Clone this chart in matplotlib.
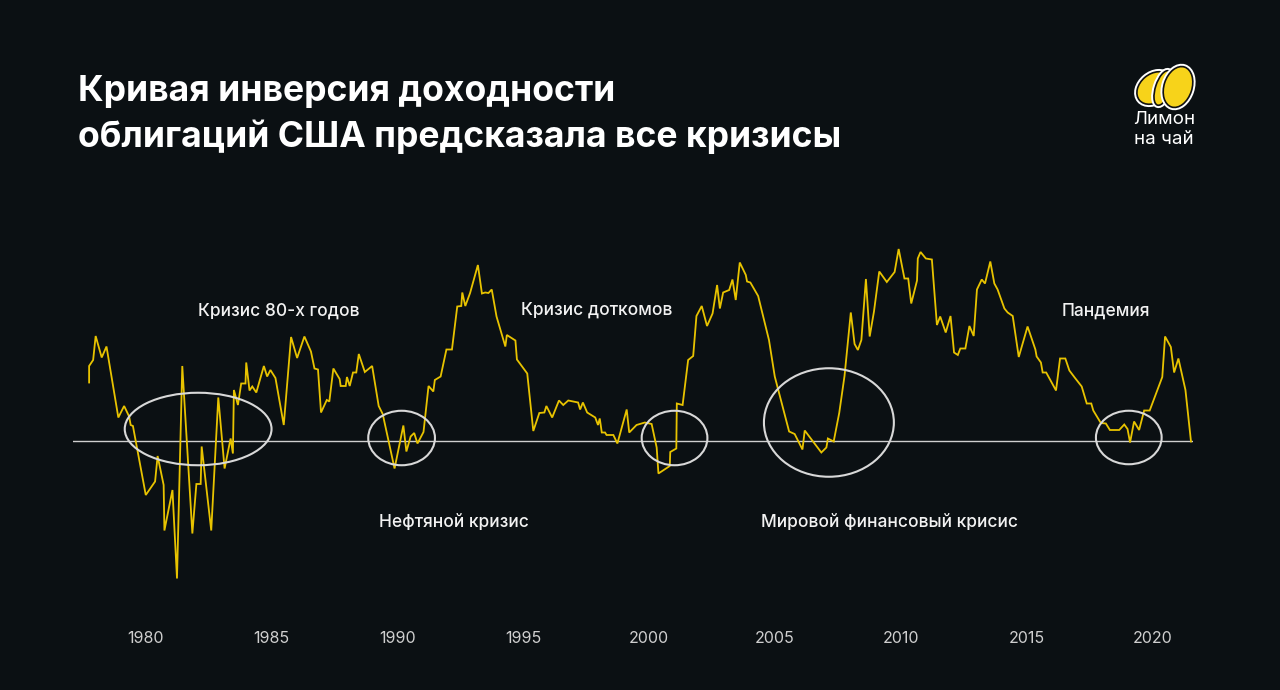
import matplotlib
matplotlib.use("Agg")
import matplotlib.pyplot as plt
from matplotlib.patches import Ellipse
import matplotlib.patheffects as pe

# ---------------- data ----------------
years = [
    1977.77, 1977.77, 1977.93, 1978.03, 1978.27, 1978.46, 1978.93, 1979.16, 1979.36, 1979.42,
    1979.51, 1980.02, 1980.39, 1980.49, 1980.73, 1980.76, 1981.08, 1981.26, 1981.47, 1981.87,
    1982.03, 1982.20, 1982.24, 1982.62, 1982.90, 1983.15, 1983.39, 1983.48, 1983.52, 1983.68,
    1983.81, 1983.98, 1984.01, 1984.14, 1984.25, 1984.41, 1984.71, 1984.84, 1984.97, 1985.17,
    1985.50, 1985.79, 1986.03, 1986.32, 1986.58, 1986.72, 1986.86, 1986.98, 1987.21, 1987.31,
    1987.47, 1987.72, 1987.76, 1987.96, 1988.01, 1988.12, 1988.25, 1988.38, 1988.48, 1988.72,
    1989.01, 1989.27, 1989.43, 1989.90, 1990.25, 1990.37, 1990.54, 1990.68, 1990.81, 1991.05,
    1991.25, 1991.44, 1991.50, 1991.73, 1991.96, 1992.18, 1992.39, 1992.55, 1992.59, 1992.71,
    1992.90, 1993.21, 1993.37, 1993.50, 1993.63, 1993.76, 1993.95, 1994.30, 1994.36, 1994.70,
    1994.76, 1995.17, 1995.41, 1995.65, 1995.85, 1995.93, 1996.16, 1996.43, 1996.60, 1996.80,
    1997.19, 1997.27, 1997.38, 1997.55, 1997.87, 1997.98, 1998.05, 1998.13, 1998.26, 1998.32,
    1998.59, 1998.75, 1999.12, 1999.22, 1999.51, 1999.84, 2000.11, 2000.31, 2000.38, 2000.83,
    2000.85, 2001.09, 2001.11, 2001.34, 2001.56, 2001.76, 2001.89, 2002.10, 2002.31, 2002.53,
    2002.71, 2002.82, 2002.95, 2003.19, 2003.32, 2003.45, 2003.61, 2003.85, 2003.90, 2004.03,
    2004.34, 2004.77, 2005.00, 2005.57, 2005.79, 2006.10, 2006.19, 2006.85, 2007.05, 2007.11,
    2007.34, 2007.56, 2007.77, 2008.02, 2008.17, 2008.30, 2008.44, 2008.62, 2008.77, 2008.94,
    2009.15, 2009.45, 2009.76, 2009.92, 2010.15, 2010.30, 2010.42, 2010.65, 2010.68, 2010.79,
    2011.00, 2011.24, 2011.44, 2011.57, 2011.79, 2011.98, 2012.12, 2012.27, 2012.37, 2012.57,
    2012.73, 2012.90, 2013.03, 2013.22, 2013.35, 2013.56, 2013.72, 2013.85, 2014.12, 2014.25,
    2014.45, 2014.69, 2015.04, 2015.24, 2015.35, 2015.40, 2015.57, 2015.64, 2015.78, 2016.17,
    2016.33, 2016.54, 2016.70, 2016.91, 2017.19, 2017.39, 2017.57, 2017.65, 2017.95, 2018.15,
    2018.31, 2018.68, 2018.88, 2019.01, 2019.11, 2019.27, 2019.47, 2019.67, 2019.89, 2020.39,
    2020.50, 2020.73, 2020.86, 2021.03, 2021.31, 2021.53,
]
spread = [
    1.17, 1.50, 1.62, 2.10, 1.67, 1.89, 0.47, 0.70, 0.49, 0.32,
    0.30, -1.08, -0.81, -0.30, -0.88, -1.79, -0.98, -2.75, 1.50, -1.85,
    -0.86, -0.86, -0.11, -1.79, 0.87, -0.55, 0.05, -0.25, 1.02, 0.72,
    1.15, 1.15, 1.57, 1.01, 1.09, 0.97, 1.50, 1.29, 1.42, 1.26,
    0.32, 2.08, 1.66, 2.09, 1.79, 1.45, 1.43, 0.57, 0.82, 0.79,
    1.45, 1.24, 1.10, 1.10, 1.28, 1.10, 1.37, 1.37, 1.74, 1.38,
    1.50, 0.70, 0.54, -0.55, 0.31, -0.21, 0.09, 0.16, -0.05, 0.18,
    1.10, 0.99, 1.22, 1.29, 1.83, 1.83, 2.69, 2.70, 2.97, 2.70,
    2.96, 3.52, 2.95, 2.97, 2.96, 3.03, 2.49, 1.89, 2.12, 2.01,
    1.63, 1.35, 0.20, 0.56, 0.57, 0.70, 0.47, 0.81, 0.72, 0.81,
    0.77, 0.63, 0.77, 0.57, 0.47, 0.32, 0.45, 0.17, 0.17, 0.12,
    0.12, -0.05, 0.63, 0.17, 0.32, 0.37, 0.34, -0.13, -0.65, -0.50,
    -0.22, -0.15, 0.75, 0.72, 1.62, 1.70, 2.50, 2.70, 2.30, 2.55,
    3.12, 2.65, 2.97, 3.02, 3.23, 2.82, 3.57, 3.32, 3.19, 3.17,
    2.90, 2.02, 1.29, 0.19, 0.14, -0.17, 0.21, -0.23, -0.13, 0.05,
    -0.01, 0.56, 1.30, 2.57, 1.94, 1.82, 2.02, 3.24, 2.09, 2.59,
    3.39, 3.18, 3.38, 3.84, 3.25, 3.25, 2.75, 3.21, 3.65, 3.78,
    3.65, 3.63, 2.32, 2.49, 2.17, 2.50, 1.77, 1.72, 1.85, 1.85,
    2.30, 2.10, 3.03, 3.23, 3.15, 3.59, 3.15, 3.03, 2.65, 2.57,
    2.50, 1.68, 2.29, 1.99, 1.83, 1.69, 1.57, 1.37, 1.37, 1.01,
    1.65, 1.65, 1.41, 1.27, 1.09, 0.75, 0.75, 0.61, 0.36, 0.35,
    0.22, 0.22, 0.33, 0.24, -0.03, 0.39, 0.22, 0.61, 0.61, 1.28,
    2.09, 1.88, 1.37, 1.65, 1.02, -0.01,
]

tick_years = [1980, 1985, 1990, 1995, 2000, 2005, 2010, 2015, 2020]

crisis_labels = ["Кризис 80-х годов", "Нефтяной кризис", "Кризис доткомов",
                 "Мировой финансовый крисис", "Пандемия"]
label_x = [1985.31, 1992.24, 1997.92, 2009.54, 2018.15]
label_y = [2.60, -1.62, 2.62, -1.62, 2.60]

ellipse_cx = [1982.10, 1990.18, 2001.02, 2007.15, 2019.06]
ellipse_cy = [0.24, 0.06, 0.06, 0.37, 0.07]
ellipse_w = [5.83, 2.65, 2.61, 5.16, 2.61]
ellipse_h = [1.45, 1.09, 1.09, 2.17, 1.07]

title_line1 = "Кривая инверсия доходности"
title_line2 = "облигаций США предсказала все кризисы"

# ---------------- style ----------------
BG = "#0b1013"
YELLOW = "#e8c300"
FONT = ["Inter", "DejaVu Sans"]

plt.rcParams["font.family"] = FONT

fig = plt.figure(figsize=(12.8, 6.9), dpi=100, facecolor=BG)
ax = fig.add_axes([73 / 1280, 90 / 690, 1120 / 1280, 370 / 690])
ax.set_facecolor(BG)

ax.axhline(0, color="#cfcfcf", lw=1.0, zorder=1)
ax.plot(years, spread, color=YELLOW, lw=1.3, zorder=3, solid_joinstyle="miter")

for cx, cy, w, h in zip(ellipse_cx, ellipse_cy, ellipse_w, ellipse_h):
    ax.add_patch(Ellipse((cx, cy), w, h, fill=False, edgecolor="#d8d8d8",
                         lw=1.5, zorder=4))

for txt, x, y in zip(crisis_labels, label_x, label_y):
    ax.text(x, y, txt, color="#f2f2f2", fontsize=12.5, ha="center", va="center",
            fontweight="medium")

ax.set_xlim(1977.13, 2021.61)
ax.set_ylim(-3.18, 4.22)
ax.set_xticks(tick_years)
ax.set_xticklabels([str(t) for t in tick_years])
ax.tick_params(axis="x", length=0, pad=22.5, labelsize=11.5, labelcolor="#cfcfcf")
ax.set_yticks([])
for s in ax.spines.values():
    s.set_visible(False)

# ---------------- title ----------------
fig.text(78 / 1280, (690 - 101) / 690, title_line1, color="white", fontsize=25.6,
         fontweight="bold", ha="left", va="baseline")
fig.text(78 / 1280, (690 - 147) / 690, title_line2, color="white", fontsize=25.6,
         fontweight="bold", ha="left", va="baseline")

# ---------------- logo ----------------
lax = fig.add_axes([1132 / 1280, (690 - 112) / 690, 66 / 1280, 50 / 690])
lax.set_xlim(0, 66)
lax.set_ylim(0, 50)
lax.axis("off")
stroke = [pe.withStroke(linewidth=4, foreground="white")]
lemon_yellow = "#f7d31a"
e1 = Ellipse((22, 24), 38, 28, angle=40, facecolor=lemon_yellow, edgecolor="#111111", lw=1.2)
e1.set_path_effects(stroke)
lax.add_patch(e1)
e2 = Ellipse((31, 24), 15, 36, angle=-18, facecolor=lemon_yellow, edgecolor="#111111", lw=1.2)
e2.set_path_effects(stroke)
lax.add_patch(e2)
e3 = Ellipse((46, 25), 28, 42, angle=-18, facecolor=lemon_yellow, edgecolor="#111111", lw=1.2)
e3.set_path_effects(stroke)
lax.add_patch(e3)

fig.text(1164 / 1280, (690 - 120) / 690, "Лимон", color="white", fontsize=13.5,
         ha="center", va="center")
fig.text(1164 / 1280, (690 - 140) / 690, "на чай", color="white", fontsize=13.5,
         ha="center", va="center")

fig.savefig("out.png", dpi=100, facecolor=BG)
